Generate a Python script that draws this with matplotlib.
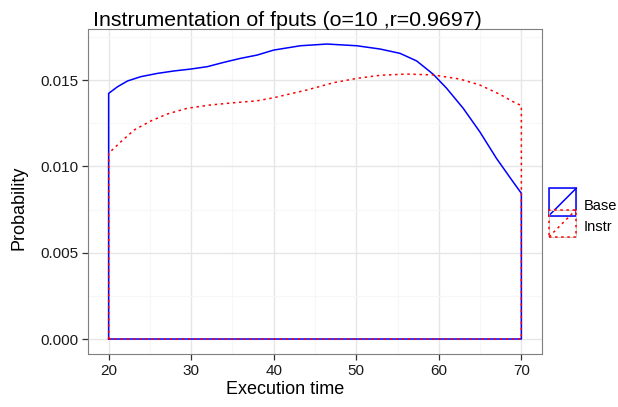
import numpy as np
import matplotlib
matplotlib.use("Agg")
import matplotlib.pyplot as plt
from matplotlib.patches import Rectangle
from matplotlib.lines import Line2D
from matplotlib.legend_handler import HandlerBase

plt.rcParams.update({"font.family": ["Liberation Sans", "DejaVu Sans"]})

# density curves (x = execution time, y = probability)
base_x = [20, 21.09, 22.29, 23.9, 25.92, 27.92, 29.94, 31.96, 33.96, 35.98, 37.98,
          40.0, 43.22, 46.45, 50.07, 52.89, 55.3, 57.32, 59.32, 60.94, 62.95, 64.96,
          66.98, 68.99, 70]
base_y = [0.01423, 0.01462, 0.01495, 0.01520, 0.01539, 0.01553, 0.01564, 0.01578,
          0.01603, 0.01626, 0.01645, 0.01674, 0.01699, 0.01709, 0.01699, 0.01680,
          0.01655, 0.01611, 0.01534, 0.01453, 0.01337, 0.01201, 0.01047, 0.00911,
          0.00844]
instr_x = [20, 21.49, 23.09, 25.1, 27.13, 29.54, 32.36, 35.17, 37.98, 40.0, 44.03,
           47.25, 50.07, 52.89, 56.11, 59.32, 62.55, 64.96, 67.38, 68.99, 70]
instr_y = [0.01076, 0.01143, 0.01211, 0.01263, 0.01304, 0.01337, 0.01356, 0.01369,
           0.01380, 0.01398, 0.01443, 0.01485, 0.01510, 0.01528, 0.01535, 0.01530,
           0.01506, 0.01472, 0.01418, 0.01375, 0.01352]
groups = ["Base", "Instr"]

BLUE, RED = "#0000FF", "#FF0000"
DOT = (0, (1.6, 2.4))


def outline(xs, ys):
    px = [xs[0]] + list(xs) + [xs[-1], xs[0]]
    py = [0] + list(ys) + [0, 0]
    return px, py


class BoxKey(HandlerBase):
    """ggplot-style density key: outlined square with a diagonal."""
    def __init__(self, ls):
        super().__init__()
        self.ls = ls

    def create_artists(self, legend, orig, xd, yd, w, h, fontsize, trans):
        c = orig.get_color()
        x0, y0, hh = -xd, -yd, h + yd
        bg = Rectangle((x0, y0), w, hh, fill=False, edgecolor="#CCCCCC", lw=0.8,
                       transform=trans)
        box = Rectangle((x0, y0), w, hh, fill=False, edgecolor=c, linestyle=self.ls,
                        lw=1.1, transform=trans)
        diag = Line2D([x0, x0 + w], [y0, y0 + hh], color=c, linestyle=self.ls, lw=1.1,
                      transform=trans)
        return [bg, box, diag]


fig = plt.figure(figsize=(6.18, 4.07), dpi=100)
ax = fig.add_axes([0.1424, 0.1302, 0.7346, 0.7985])

bx, by = outline(base_x, base_y)
ix, iy = outline(instr_x, instr_y)
hb, = ax.plot(bx, by, color=BLUE, lw=1.1, solid_joinstyle="round")
hi, = ax.plot(ix, iy, color=RED, lw=1.1, linestyle=DOT)

ax.set_xlim(17.5, 72.5)
ax.set_ylim(-0.000869, 0.01796)
ax.set_xticks([20, 30, 40, 50, 60, 70])
ax.set_yticks([0, 0.005, 0.010, 0.015])
ax.set_yticklabels(["0.000", "0.005", "0.010", "0.015"])
ax.set_xticks(np.arange(25, 70, 10), minor=True)
ax.set_yticks([0.0025, 0.0075, 0.0125, 0.0175], minor=True)
ax.grid(which="major", color="#E6E6E6", lw=1.0)
ax.grid(which="minor", color="#F7F7F7", lw=0.8)
ax.set_axisbelow(True)
for s in ax.spines.values():
    s.set_color("#7F7F7F")
ax.tick_params(which="major", length=4.5, width=0.9, color="#333333", labelsize=11,
               labelcolor="#1A1A1A", pad=2.5)
ax.tick_params(which="minor", length=0)

ax.set_xlabel("Execution time", fontsize=13, labelpad=2, x=0.434)
ax.set_ylabel("Probability", fontsize=13, labelpad=9, y=0.449)
fig.text(287 / 618, 1 - 26 / 407, "Instrumentation of fputs (o=10 ,r=0.9697)",
         fontsize=15.4, ha="center", va="baseline")

fig.legend([hb, hi], groups, handler_map={hb: BoxKey("-"), hi: BoxKey(DOT)},
           loc="center left", bbox_to_anchor=(549 / 618, 0.4705), frameon=False,
           handlelength=1.87, handleheight=1.87, handletextpad=0.5, labelspacing=0.0,
           fontsize=10.5, borderpad=0, borderaxespad=0)

fig.savefig("out.png", dpi=100)
